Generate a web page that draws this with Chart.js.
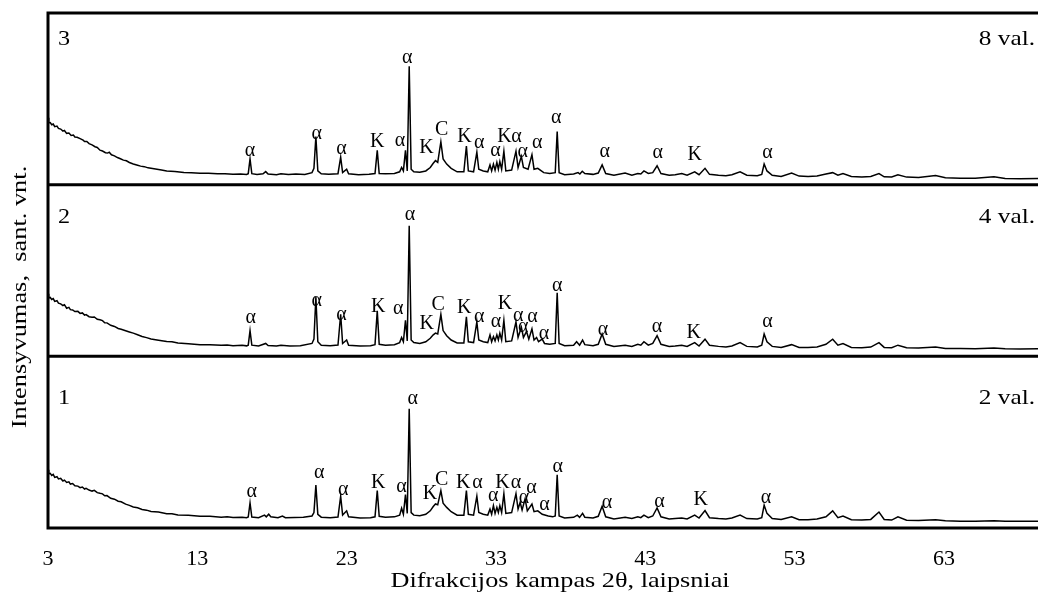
<!DOCTYPE html>
<html lang="lt">
<head>
<meta charset="UTF-8">
<title>Difraktogramos</title>
<script src="https://cdn.jsdelivr.net/npm/chart.js"></script>
<style>
  body { margin: 0; background: #fff; }
  #wrap { width: 1038px; height: 594px; }
</style>
</head>
<body>
<div id="wrap"><canvas id="xrd"></canvas></div>
<script>
// x axis ticks, 2θ
const xTicks = [3, 13, 23, 33, 43, 53, 63];

// panel captions, bottom to top
const panelNames = ['1', '2', '3'];
const panelTimes = ['2 val.', '4 val.', '8 val.'];

// diffractograms [2θ, intensity as % of panel height]
const pattern2h = [[3.0,33.9],[3.05,31.5],[3.15,31.8],[3.25,30.6],[3.35,31.2],[3.45,29.5],[3.6,29.9],[3.7,28.6],[3.85,28.9],[4.0,27.4],[4.1,27.9],[4.25,26.5],[4.4,26.9],[4.5,25.6],[4.65,25.9],[4.8,24.6],[5.0,24.4],[5.15,23.5],[5.3,23.9],[5.45,22.7],[5.55,23.1],[5.75,22.1],[5.95,21.5],[6.1,21.9],[6.3,20.6],[6.48,20.2],[6.65,19.9],[6.8,18.8],[6.95,18.9],[7.2,17.3],[7.45,16.8],[7.7,15.6],[7.9,15.3],[8.2,13.9],[8.45,13.2],[8.71,12.2],[9.0,11.8],[9.3,10.8],[9.6,10.4],[9.9,9.6],[10.4,9.3],[10.95,8.3],[11.3,8.3],[11.7,7.6],[12.4,7.4],[13.18,6.9],[13.85,6.8],[14.6,6.3],[15.0,6.5],[15.39,6.1],[16.0,6.3],[16.3,6.0],
  [16.41,6.4],[16.53,14.6],[16.65,6.4],[17.1,6],[17.5,7.5],[17.62,6.5],[17.78,8],[17.92,6.5],[18.4,6],[18.7,7],[18.9,6],[19.5,6.1],[20.1,6.2],[20.68,7],[20.81,9],[20.94,25],[21.07,8],[21.3,6.3],[21.9,6],[22.42,6.4],[22.6,18.5],[22.73,7.5],[23.0,10],[23.13,6.5],[23.9,5.8],[24.6,6],[24.9,6.5],[25.05,21.8],[25.18,6.8],[25.6,6.3],[26.2,6.5],[26.55,7.5],[26.68,11.5],[26.8,8],[26.94,19.5],[27.06,8.5],[27.19,69.5],[27.32,9],[27.5,7.5],[27.9,7.2],[28.3,8],[28.6,10],[28.8,12.5],[28.95,14],[29.1,13.5],[29.31,21.8],[29.46,14.5],[29.7,12],[30.0,9.5],[30.4,7.5],[30.85,7.5],[31.02,21.8],[31.15,8],[31.5,7.5],[31.72,18.5],[31.85,9],[32.15,8],[32.45,7.5],[32.6,11],[32.71,8],[32.83,13],[32.94,8.5],[33.06,12],[33.16,9],[33.26,13],[33.38,9],[33.53,20],[33.66,8.5],[34.05,9],[34.34,20],[34.48,11],[34.62,15],[34.75,10.5],[34.95,17],[35.1,10],[35.41,14],[35.55,9.5],[35.8,10],[36.1,8],[36.5,7],[36.8,6.5],[36.97,7],[37.1,31],[37.23,7],[37.6,5.8],[38.2,6.2],[38.45,7.5],[38.6,6.2],[38.8,8.5],[38.95,6.3],[39.5,5.8],[39.85,6.8],[40.11,12.7],[40.35,6.5],[40.9,5.3],[41.65,6.2],[42.1,5.5],[42.5,6.5],[42.7,6.0],[42.91,7.5],[43.2,6],[43.5,7],[43.79,11.7],[44.05,6.5],[44.6,5.3],[45.0,5.6],[45.44,5.8],[45.8,5.3],[46.31,7.5],[46.6,5.8],[47.0,10.2],[47.3,6],[47.9,5.5],[48.4,5.2],[48.8,5.8],[49.35,7.5],[49.8,5.5],[50.5,5.2],[50.8,6],[50.96,13.3],[51.15,8.5],[51.5,5.5],[52.1,5],[52.8,6.5],[53.3,4.8],[53.9,4.8],[54.5,5.2],[55.1,6.5],[55.55,10],[55.9,6],[56.24,7],[56.8,4.8],[57.5,4.6],[58.1,5],[58.65,9.3],[59.0,5],[59.5,4.6],[59.92,6.5],[60.5,4.5],[61.3,4.3],[62.44,4.8],[63.1,4.2],[64.1,4],[65.1,4],[66.35,4.2],[67.1,4],[68.1,3.9],[69.3,4]];

const pattern4h = [[3.0,36.4],[3.05,34],[3.15,34.3],[3.25,33.1],[3.35,33.6],[3.45,32],[3.6,32.4],[3.7,31],[3.85,30.6],[4.0,29.6],[4.1,30.1],[4.25,28],[4.4,28.5],[4.5,27.2],[4.65,27],[4.8,26.1],[5.0,26.2],[5.15,25],[5.3,25.3],[5.45,24],[5.55,24.3],[5.75,23.1],[5.95,22.8],[6.1,22.9],[6.3,21.6],[6.48,21.3],[6.65,20.8],[6.8,19.6],[6.95,19.5],[7.2,18.1],[7.45,17.4],[7.7,16.2],[7.9,15.8],[8.2,14.9],[8.45,14.2],[8.71,13.5],[9.0,12.6],[9.3,11.6],[9.6,10.9],[9.9,10.1],[10.4,9.4],[10.95,8.6],[11.3,8.5],[11.7,7.8],[12.4,7.4],[13.18,6.8],[13.85,6.8],[14.6,6.4],[15.0,6.6],[15.39,6.2],[16.0,6.4],[16.3,6.1],
  [16.41,6.5],[16.53,15],[16.65,6.5],[17.1,6],[17.58,7.5],[17.74,6.3],[18.3,6],[18.6,6.5],[19.2,6],[19.9,6.2],[20.68,7.5],[20.81,10],[20.94,34.5],[21.07,8.5],[21.3,6.5],[21.9,6.2],[22.42,6.6],[22.6,24.5],[22.73,7.5],[23.0,9.5],[23.13,6.5],[23.9,6],[24.6,6.2],[24.9,6.8],[25.05,26.5],[25.18,7],[25.6,6.5],[26.2,6.8],[26.55,8],[26.68,11],[26.8,8.5],[26.94,21],[27.06,9],[27.19,76],[27.32,9.5],[27.5,8],[27.9,7.5],[28.3,8.5],[28.6,10.5],[28.8,12.5],[28.95,13.5],[29.1,13],[29.31,24.5],[29.46,15],[29.7,12],[30.0,9.5],[30.4,7.8],[30.85,7.8],[31.02,23],[31.15,8.5],[31.5,8],[31.72,20],[31.85,9.5],[32.15,8.5],[32.45,8],[32.6,12.5],[32.71,8.5],[32.83,11.5],[32.94,9],[33.06,12.5],[33.16,9.5],[33.26,13.5],[33.38,9.5],[33.53,21],[33.66,8.5],[34.05,9],[34.34,20],[34.48,11],[34.7,17],[34.84,11],[35.05,14.5],[35.2,10],[35.41,16],[35.55,9.5],[35.72,11],[35.85,8.5],[36.1,10],[36.25,7.5],[36.6,7],[36.97,7.5],[37.1,37],[37.23,7.5],[37.6,6.2],[38.2,6.5],[38.4,8.5],[38.6,6.5],[38.8,9.5],[38.95,6.8],[39.5,6.2],[39.85,7],[40.11,13],[40.35,7],[40.9,5.8],[41.65,6.5],[42.1,5.8],[42.5,7],[42.7,6.5],[42.91,8.5],[43.2,6.5],[43.5,7.5],[43.79,12],[44.05,7],[44.6,5.8],[45.0,6],[45.44,6.5],[45.8,5.8],[46.31,8],[46.6,6],[47.0,10],[47.3,6.5],[47.9,5.8],[48.4,5.5],[48.8,6],[49.35,8],[49.8,5.8],[50.5,5.5],[50.8,6.5],[50.96,13],[51.15,8.5],[51.5,5.8],[52.1,5.2],[52.8,6.8],[53.3,5.2],[53.9,5.2],[54.5,5.5],[55.1,7],[55.55,10],[55.9,6.5],[56.24,7.5],[56.8,5.2],[57.5,5],[58.1,5.4],[58.65,8],[59.0,5.2],[59.5,5],[59.92,6.5],[60.5,5],[61.3,4.8],[62.44,5.4],[63.1,4.6],[64.1,4.5],[65.1,4.4],[66.35,4.9],[67.1,4.4],[68.1,4.3],[69.3,4.4]];

const pattern8h = [[3.0,39],[3.05,36],[3.15,36.2],[3.25,34.9],[3.35,35.3],[3.45,33.8],[3.6,34.1],[3.7,32.8],[3.85,32.4],[4.0,31.2],[4.1,31.6],[4.25,29.9],[4.4,30.1],[4.55,28.7],[4.7,28.9],[4.8,27.8],[4.95,27.6],[5.15,26.8],[5.35,25.9],[5.45,25.1],[5.6,25.2],[5.75,23.9],[5.95,23.2],[6.15,22.1],[6.3,21.7],[6.48,20.1],[6.65,19.6],[6.85,18.6],[7.0,18.4],[7.1,18.9],[7.25,17.4],[7.45,16.8],[7.65,15.8],[7.85,15.1],[8.05,14.3],[8.25,13.9],[8.45,12.9],[8.71,12],[9.0,11.3],[9.2,10.8],[9.45,10.5],[9.7,9.8],[10.2,9.1],[10.6,8.6],[10.95,8],[11.5,7.7],[12.1,7.1],[12.6,7.0],[13.18,6.6],[13.75,6.6],[14.35,6.3],[14.85,6.3],[15.39,6.0],[15.9,6.2],[16.3,5.9],
  [16.41,6.4],[16.53,15],[16.65,6.4],[17.0,5.9],[17.4,6.3],[17.58,7.6],[17.74,6.2],[18.3,5.8],[18.6,6.4],[19.1,5.9],[19.6,6.2],[20.2,5.9],[20.68,7],[20.81,9.5],[20.94,28],[21.07,8],[21.3,6.3],[21.8,6],[22.42,6.4],[22.6,16],[22.73,7],[23.0,9],[23.13,6.3],[23.8,5.8],[24.5,6],[24.9,6.5],[25.05,20],[25.18,6.5],[25.6,6.3],[26.2,6.5],[26.55,7.5],[26.68,10],[26.8,8],[26.94,20],[27.06,8],[27.19,69],[27.32,9],[27.5,7.5],[27.9,7.2],[28.3,8],[28.6,10],[28.8,12.5],[28.95,14],[29.1,13],[29.31,25],[29.46,15],[29.7,12],[30.0,9.5],[30.4,7.5],[30.85,7.5],[31.02,22.5],[31.15,8],[31.5,7.5],[31.72,19],[31.85,9],[32.15,8],[32.45,7.5],[32.6,11.5],[32.71,8],[32.83,12],[32.94,8.5],[33.06,13],[33.16,9],[33.26,13.5],[33.38,9],[33.53,19.5],[33.66,8],[34.05,8.5],[34.34,19.5],[34.48,10],[34.7,16.5],[34.84,10],[35.15,9],[35.41,17.5],[35.55,9],[35.8,9.5],[36.2,7],[36.6,6.5],[36.97,7],[37.1,31],[37.23,7],[37.6,5.8],[38.2,6.2],[38.5,7],[38.62,6.2],[38.78,7.8],[38.95,6.5],[39.5,6],[39.85,6.8],[40.11,11.5],[40.35,6.5],[40.9,5.5],[41.65,6.8],[42.1,5.5],[42.5,6.5],[42.7,6.2],[42.91,8],[43.2,6.5],[43.5,7],[43.79,11],[44.05,6.5],[44.6,5.5],[45.0,5.8],[45.44,6.5],[45.8,5.5],[46.31,7.5],[46.6,5.8],[47.0,9.5],[47.3,6],[47.9,5.5],[48.4,5.2],[48.8,5.8],[49.35,7.5],[49.8,5.5],[50.5,5.2],[50.8,6],[50.96,12],[51.15,8],[51.5,5.5],[52.1,4.8],[52.8,6.8],[53.3,5],[53.9,4.8],[54.5,5],[55.1,6.2],[55.55,7],[55.9,5.5],[56.24,6.5],[56.8,4.8],[57.5,4.5],[58.1,4.8],[58.65,6.5],[59.0,4.6],[59.5,4.5],[59.92,5.8],[60.5,4.4],[61.3,4.2],[62.44,5.3],[63.1,4],[64.1,3.8],[65.1,3.7],[66.35,4.6],[67.1,3.6],[68.1,3.5],[69.3,3.6]];

// phase marks [2θ, height, phase]
const marks2h = [[16.64,21.4,'α'],[21.17,32,'α'],[22.77,22.4,'α'],[25.12,26.2,'K'],[26.68,24.3,'α'],[27.42,75.3,'α'],[28.58,19.8,'K'],[29.36,28.1,'C'],[30.81,26.2,'K'],[31.77,26.2,'α'],[32.82,18.5,'α'],[33.43,26.2,'K'],[34.34,26.2,'α'],[34.87,17.5,'α'],[35.38,23.3,'α'],[36.25,13.7,'α'],[37.13,35.8,'α'],[40.44,14.6,'α'],[43.95,15.2,'α'],[46.71,16.6,'K'],[51.08,17.9,'α']];
const marks4h = [[16.57,22.2,'α'],[20.99,32.6,'α'],[22.66,24.2,'α'],[25.12,28.7,'K'],[26.46,27.7,'α'],[27.24,82.3,'α'],[28.36,18.9,'K'],[29.13,30,'C'],[30.87,28.1,'K'],[31.88,22.8,'α'],[33.0,19.9,'α'],[33.6,30.6,'K'],[34.49,23.8,'α'],[34.82,17,'α'],[35.45,22.8,'α'],[36.21,13,'α'],[37.1,41.3,'α'],[40.16,15.2,'α'],[43.79,17.5,'α'],[46.25,14,'K'],[51.19,19.9,'α']];
const marks8h = [[16.53,19.8,'α'],[20.99,29.5,'α'],[22.66,21,'α'],[25.05,25.2,'K'],[26.57,25.6,'α'],[27.06,74.2,'α'],[28.34,21.3,'K'],[29.36,32.1,'C'],[30.89,28.2,'K'],[31.88,24.3,'α'],[32.96,19.8,'α'],[33.57,28.2,'K'],[34.38,28.2,'α'],[34.8,19.4,'α'],[35.76,24.3,'α'],[37.03,38.9,'α'],[40.28,19.4,'α'],[43.84,18.4,'α'],[46.31,17.4,'K'],[51.19,18.4,'α']];

const serif = '"Liberation Serif", "Times New Roman", serif';
const allMarks = [marks2h, marks4h, marks8h];
const captionLevel = [72.5, 77.7, 81.3];

function drawText(ctx, str, x, y, size, align, baseline, stretch, angle) {
    ctx.save();
    ctx.translate(x, y);
    if (angle) ctx.rotate(angle);
    ctx.scale(stretch, 1);
    ctx.font = size + 'px ' + serif;
    ctx.textAlign = align;
    ctx.textBaseline = baseline;
    ctx.fillText(str, 0, 0);
    ctx.restore();
}

// frame, dividers and all the free text
const panelDecor = {
    id: 'panelDecor',
    afterDatasetsDraw(chart) {
        const {ctx, chartArea, scales} = chart;
        const panels = [scales.y1, scales.y2, scales.y3];
        ctx.save();
        ctx.strokeStyle = '#000';
        ctx.lineWidth = 3;
        ctx.beginPath();
        ctx.moveTo(chartArea.left, chartArea.top - 1.5);
        ctx.lineTo(chartArea.left, chartArea.bottom + 1.5);
        panels.forEach(s => {
            ctx.moveTo(chartArea.left, s.top);
            ctx.lineTo(chartArea.right, s.top);
        });
        ctx.moveTo(chartArea.left, chartArea.bottom);
        ctx.lineTo(chartArea.right, chartArea.bottom);
        ctx.stroke();

        ctx.fillStyle = '#000';
        allMarks.forEach((list, i) => {
            list.forEach(([t, v, s]) => {
                drawText(ctx, s, scales.x.getPixelForValue(t), panels[i].getPixelForValue(v), 20, 'center', 'middle', 1);
            });
        });
        panels.forEach((s, i) => {
            const y = s.getPixelForValue(captionLevel[i]);
            drawText(ctx, panelNames[i], chartArea.left + 10, y, 22, 'left', 'alphabetic', 1.1);
            drawText(ctx, panelTimes[i], chartArea.right - 3, y, 22, 'right', 'alphabetic', 1.15);
        });
        drawText(ctx, 'Difrakcijos kampas 2θ, laipsniai', 560, 587, 21, 'center', 'alphabetic', 1.25);
        drawText(ctx, 'Intensyvumas,  sant. vnt.', 20, 297, 22, 'center', 'middle', 1.2, -Math.PI / 2);
        ctx.restore();
    }
};

function toPoints(list) {
    return list.map(p => ({x: p[0], y: p[1]}));
}

function trace(list, axis) {
    return {
        data: toPoints(list),
        yAxisID: axis,
        borderColor: '#000',
        borderWidth: 1.5,
        pointRadius: 0,
        fill: false,
        tension: 0
    };
}

const panelAxis = {
    type: 'linear',
    position: 'left',
    min: 0,
    max: 100,
    stack: 'panels',
    stackWeight: 1,
    display: false
};

new Chart(document.getElementById('xrd'), {
    type: 'line',
    data: {
        datasets: [
            trace(pattern2h, 'y1'),
            trace(pattern4h, 'y2'),
            trace(pattern8h, 'y3')
        ]
    },
    options: {
        responsive: true,
        maintainAspectRatio: false,
        animation: false,
        layout: { padding: { left: 48, right: 0, top: 13, bottom: 3.6 } },
        plugins: { legend: { display: false }, tooltip: { enabled: false } },
        scales: {
            x: {
                type: 'linear',
                min: 3,
                max: 69.3,
                grid: { display: false, drawTicks: false },
                border: { display: false },
                afterBuildTicks: axis => { axis.ticks = xTicks.map(v => ({value: v})); },
                ticks: {
                    autoSkip: false,
                    maxRotation: 0,
                    padding: 18,
                    color: '#000',
                    font: { family: serif, size: 22 }
                }
            },
            y1: Object.assign({}, panelAxis),
            y2: Object.assign({}, panelAxis),
            y3: Object.assign({}, panelAxis)
        }
    },
    plugins: [panelDecor]
});
</script>
</body>
</html>
